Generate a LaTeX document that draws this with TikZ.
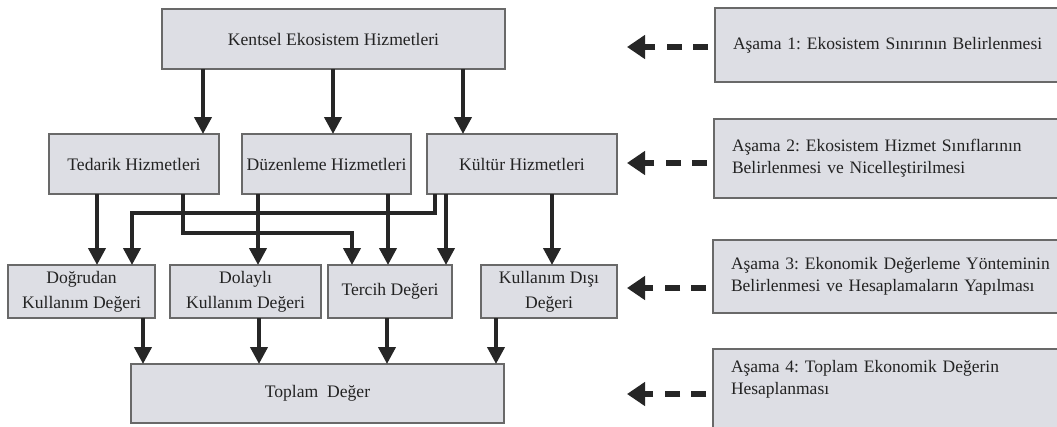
\documentclass[tikz,border=0pt]{standalone}
\usepackage{fontspec}
\setmainfont{Liberation Serif}
\usetikzlibrary{arrows.meta}
\definecolor{boxfill}{RGB}{221,222,228}
\definecolor{boxline}{RGB}{105,105,105}
\definecolor{txt}{RGB}{35,35,35}
\tikzset{
  box/.style={draw=boxline, line width=1.6pt, fill=boxfill, text=txt, inner sep=0pt, outer sep=0pt, align=center, font=\fontsize{17.6}{25}\selectfont},
  stage/.style={draw=boxline, line width=1.6pt, fill=boxfill, text=txt, inner ysep=0pt, inner xsep=18pt, outer sep=0pt, align=left, text width=340pt, anchor=west, font=\fontsize{17.5}{22}\selectfont},
  arr/.style={line width=4pt, draw=black!85, -{Triangle[width=17pt,length=17pt]}},
  darr/.style={line width=6.5pt, draw=black!85, -{Triangle[width=23pt,length=18pt]}, dash pattern=on 15pt off 11pt on 15pt off 12pt on 40pt, shorten <=7pt}
}
\frenchspacing
\begin{document}
\begin{tikzpicture}[x=1pt,y=-1pt]
\useasboundingbox (0,0) rectangle (1057,426);
\fill[white] (0,0) rectangle (1057,426);
\clip (0,0) rectangle (1057,426);
% main column
\node[box, minimum width=343pt, minimum height=60pt] (kes) at (333.5,39) {Kentsel Ekosistem Hizmetleri};
\node[box, minimum width=170pt, minimum height=60pt] (ted) at (134,164) {Tedarik Hizmetleri};
\node[box, minimum width=169pt, minimum height=60pt] (duz) at (326.5,164) {Düzenleme Hizmetleri};
\node[box, minimum width=190pt, minimum height=60pt] (kul) at (522,164) {Kültür Hizmetleri};
\node[box, minimum width=147pt, minimum height=53pt] (dog) at (81.5,291.5) {Doğrudan\\Kullanım Değeri};
\node[box, minimum width=151pt, minimum height=53pt] (dol) at (245.5,291.5) {Dolaylı\\Kullanım Değeri};
\node[box, minimum width=124pt, minimum height=53pt] (ter) at (390,291.5) {Tercih Değeri};
\node[box, minimum width=136pt, minimum height=53pt] (kdi) at (549,291.5) {Kullanım Dışı\\Değeri};
\node[box, minimum width=373pt, minimum height=59pt] (top) at (317.5,393.5) {Toplam\ \ Değer};
% stage boxes
\node[stage, minimum height=74pt] (a1) at (715,45) {Aşama 1: Ekosistem Sınırının Belirlenmesi};
\node[stage, minimum height=79pt] (a2) at (714,158.5) {Aşama 2: Ekosistem Hizmet Sınıflarının\\Belirlenmesi ve Nicelleştirilmesi};
\node[stage, minimum height=73pt] (a3) at (713,276.5) {Aşama 3: Ekonomik Değerleme Yönteminin\\Belirlenmesi ve Hesaplamaların Yapılması};
\node[stage, anchor=north west, inner ysep=8pt] (a4) at (713,349) {\parbox[t][90pt][t]{340pt}{\strut Aşama 4: Toplam Ekonomik Değerin\\Hesaplanması}};
% column coordinates
\coordinate (x203) at (203,0);
\coordinate (x333) at (333,0);
\coordinate (x463) at (463,0);
\coordinate (x97) at (97,0);
\coordinate (x435) at (435,0);
\coordinate (x183) at (183,0);
\coordinate (x258) at (258,0);
\coordinate (x388) at (388,0);
\coordinate (x446) at (446,0);
\coordinate (x552) at (552,0);
\coordinate (x143) at (143,0);
\coordinate (x259) at (259,0);
\coordinate (x387) at (387,0);
\coordinate (x496) at (496,0);
\coordinate (j1) at (132,213);
\coordinate (j2) at (352,233);
% level 1 -> 2
\draw[arr] (kes.south -| x203) -- (ted.north -| x203);
\draw[arr] (kes.south -| x333) -- (duz.north -| x333);
\draw[arr] (kes.south -| x463) -- (kul.north -| x463);
% level 2 -> 3
\draw[arr] (ted.south -| x97) -- (dog.north -| x97);
\draw[arr] (kul.south -| x435) |- (j1) -- (dog.north -| j1);
\draw[arr] (duz.south -| x258) -- (dol.north -| x258);
\draw[arr] (ted.south -| x183) |- (j2) -- (ter.north -| j2);
\draw[arr] (duz.south -| x388) -- (ter.north -| x388);
\draw[arr] (kul.south -| x446) -- (ter.north -| x446);
\draw[arr] (kul.south -| x552) -- (kdi.north -| x552);
% level 3 -> total
\draw[arr] (dog.south -| x143) -- (top.north -| x143);
\draw[arr] (dol.south -| x259) -- (top.north -| x259);
\draw[arr] (ter.south -| x387) -- (top.north -| x387);
\draw[arr] (kdi.south -| x496) -- (top.north -| x496);
% stage arrows
\coordinate (t1) at (627,47);
\coordinate (t2) at (627,163);
\coordinate (t3) at (627,288);
\coordinate (t4) at (627,394);
\draw[darr] (a1.west |- t1) -- (t1);
\draw[darr] (a2.west |- t2) -- (t2);
\draw[darr] (a3.west |- t3) -- (t3);
\draw[darr] (a4.west |- t4) -- (t4);
\end{tikzpicture}
\end{document}
